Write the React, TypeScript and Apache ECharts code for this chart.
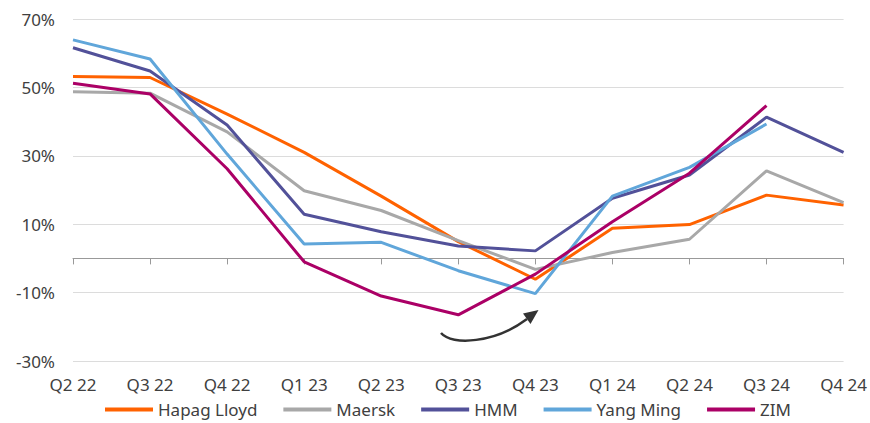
import React, { useEffect, useRef } from "react";
import * as echarts from "echarts";

const categories = ["Q2 22", "Q3 22", "Q4 22", "Q1 23", "Q2 23", "Q3 23", "Q4 23", "Q1 24", "Q2 24", "Q3 24", "Q4 24"];
const hapagLloyd = [53.2, 52.9, 42.2, 31, 18.2, 4.9, -6.1, 8.8, 9.9, 18.5, 15.6];
const maersk = [48.7, 48.3, 37, 19.8, 14.0, 5.2, -3.2, 1.7, 5.6, 25.6, 16.3];
const hmm = [61.6, 54.8, 39, 12.9, 7.8, 3.6, 2.2, 17.6, 24.4, 41.3, 31];
const yangMing = [63.9, 58.3, 30.5, 4.2, 4.7, -3.6, -10.3, 18.2, 26.6, 39.3, null];
const zim = [51.2, 48.1, 26.2, -1.0, -11, -16.5, -4.6, 10.7, 24.9, 44.7, null];
const yTicks = { min: -30, max: 70, interval: 20 };

const seriesDefs = [
  { name: "Hapag Lloyd", data: hapagLloyd, color: "#FF6200" },
  { name: "Maersk", data: maersk, color: "#A8A8A8" },
  { name: "HMM", data: hmm, color: "#525199" },
  { name: "Yang Ming", data: yangMing, color: "#60A6DA" },
  { name: "ZIM", data: zim, color: "#AB0066" },
];

const FONT = "'Noto Sans', sans-serif";

export default function App() {
  const ref = useRef<HTMLDivElement>(null);
  useEffect(() => {
    if (!ref.current) return;
    const chart = echarts.init(ref.current, undefined, { renderer: "svg" });
    chart.setOption({
      animation: false,
      grid: { left: 73, right: 23, top: 19, bottom: 62, containLabel: false },
      legend: {
        left: 105,
        top: 401,
        padding: 0,
        itemWidth: 48,
        itemHeight: 4,
        itemGap: 26,
        icon: "rect",
        textStyle: { fontFamily: FONT, fontSize: 17, color: "#404040" },
        data: seriesDefs.map((s) => s.name),
      },
      xAxis: [
        {
          type: "category",
          data: categories,
          boundaryGap: false,
          position: "bottom",
          axisLine: { show: true, onZero: true, lineStyle: { color: "#999999", width: 1 } },
          axisTick: { show: true, length: 6, lineStyle: { color: "#999999" } },
          axisLabel: { show: false },
          splitLine: { show: false },
        },
        {
          type: "category",
          data: categories,
          boundaryGap: false,
          position: "bottom",
          axisLine: { show: false, onZero: false },
          axisTick: { show: false },
          axisLabel: { show: true, interval: 0, margin: 15, fontFamily: FONT, fontSize: 17, color: "#404040" },
          splitLine: { show: false },
        },
      ],
      yAxis: {
        type: "value",
        min: yTicks.min,
        max: yTicks.max,
        interval: yTicks.interval,
        axisLine: { show: false },
        axisTick: { show: false },
        axisLabel: { formatter: "{value}%", margin: 18, fontFamily: FONT, fontSize: 17, color: "#404040" },
        splitLine: { show: true, lineStyle: { color: "#DCDCDC", width: 1 } },
      },
      series: seriesDefs.map((s) => ({
        name: s.name,
        type: "line",
        xAxisIndex: 0,
        data: s.data,
        symbol: "none",
        connectNulls: false,
        itemStyle: { color: s.color },
        lineStyle: { color: s.color, width: 3 },
      })),
      graphic: [
        {
          type: "bezierCurve",
          shape: { x1: 441, y1: 333, cpx1: 452, cpy1: 346, cpx2: 495, cpy2: 343, x2: 527, y2: 319 },
          style: { stroke: "#333333", lineWidth: 2.5, fill: null },
        },
        {
          type: "polygon",
          shape: { points: [[538.5, 310], [523, 313.5], [530.5, 324]] },
          style: { fill: "#333333" },
        },
      ],
    });
    return () => chart.dispose();
  }, []);
  return (
    <div
      ref={ref}
      style={{ position: "fixed", left: 0, top: 0, width: 870, height: 423, background: "#ffffff" }}
    />
  );
}
